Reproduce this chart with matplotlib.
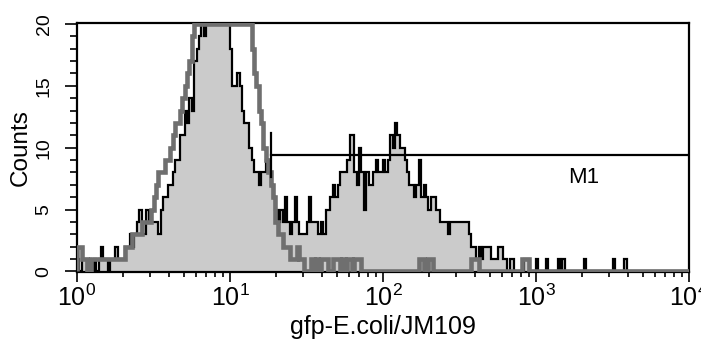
import numpy as np
import matplotlib
matplotlib.use("Agg")
import matplotlib.pyplot as plt
from matplotlib.ticker import FixedLocator, NullFormatter

plt.rcParams['font.family'] = ['Liberation Sans', 'DejaVu Sans']
plt.rcParams['mathtext.default'] = 'regular'

# 256 log-spaced channels spanning four decades
n_channels = 256
decades = 4

# gfp-E.coli/JM109 sample (filled histogram); channels above 20 are off scale
sample_counts = [
    1, 0, 1, 1, 0, 1, 0, 1, 0, 1, 2, 1, 1, 0, 1, 1,
    2, 1, 1, 1, 2, 2, 3, 2, 3, 4, 5, 3, 3, 5, 4, 4,
    4, 4, 3, 5, 6, 6, 7, 7, 8, 9, 9, 11, 11, 13, 12, 14,
    13, 17, 18, 19, 20, 19, 20, 24, 26, 27, 28, 27, 26, 25, 24, 22,
    18, 15, 15, 16, 15, 13, 12, 12, 10, 9, 8, 8, 7, 8, 8, 9,
    8, 7, 6, 5, 4, 5, 4, 6, 4, 3, 4, 6, 4, 3, 3, 3,
    4, 6, 4, 4, 4, 3, 4, 3, 5, 5, 6, 7, 6, 7, 8, 8,
    8, 9, 11, 11, 8, 7, 10, 8, 5, 8, 7, 7, 8, 9, 8, 8,
    9, 8, 9, 11, 10, 12, 11, 10, 10, 9, 8, 7, 7, 6, 7, 9,
    6, 7, 6, 5, 6, 6, 5, 5, 4, 4, 4, 3, 4, 4, 4, 4,
    4, 4, 4, 4, 3, 2, 2, 1, 2, 1, 2, 2, 2, 1, 1, 1,
    2, 2, 1, 1, 0, 1, 1, 0, 0, 0, 0, 1, 1, 0, 0, 0,
    1, 0, 0, 0, 1, 0, 0, 0, 0, 1, 0, 1, 0, 0, 0, 0,
    0, 0, 0, 0, 1, 0, 0, 0, 0, 0, 0, 0, 0, 0, 0, 0,
    1, 0, 0, 0, 0, 1, 0, 0, 0, 0, 0, 0, 0, 0, 0, 0,
    0, 0, 0, 0, 0, 0, 0, 0, 0, 0, 0, 0, 0, 0, 0, 0,
]

# negative control overlay (thick grey line)
control_counts = [
    2, 2, 1, 1, 0, 0, 1, 1, 1, 1, 1, 1, 1, 1, 1, 1,
    1, 1, 1, 1, 2, 2, 2, 3, 3, 3, 3, 4, 4, 4, 4, 5,
    6, 7, 8, 8, 8, 9, 9, 10, 11, 12, 12, 13, 14, 15, 16, 17,
    19, 22, 25, 28, 30, 32, 33, 35, 36, 35, 34, 33, 31, 30, 28, 27,
    26, 25, 24, 24, 23, 22, 22, 21, 20, 18, 16, 15, 13, 12, 10, 9,
    8, 7, 6, 4, 3, 3, 2, 2, 2, 1, 1, 1, 2, 1, 1, 0,
    0, 0, 1, 0, 1, 0, 1, 1, 1, 0, 0, 1, 1, 1, 0, 1,
    0, 1, 1, 0, 1, 1, 1, 0, 0, 0, 0, 0, 0, 0, 0, 0,
    0, 0, 0, 0, 0, 0, 0, 0, 0, 0, 0, 0, 0, 0, 0, 1,
    1, 0, 0, 1, 1, 0, 0, 0, 0, 0, 0, 0, 0, 0, 0, 0,
    0, 0, 0, 0, 0, 1, 1, 1, 0, 0, 0, 0, 0, 0, 0, 0,
    0, 0, 0, 0, 0, 0, 0, 0, 0, 0, 1, 1, 1, 0, 0, 0,
    0, 0, 0, 0, 0, 0, 0, 0, 0, 0, 0, 0, 0, 0, 0, 0,
    0, 0, 0, 0, 0, 0, 0, 0, 0, 0, 0, 0, 0, 0, 0, 0,
    0, 0, 0, 0, 0, 0, 0, 0, 0, 0, 0, 0, 0, 0, 0, 0,
    0, 0, 0, 0, 0, 0, 0, 0, 0, 0, 0, 0, 0, 0, 0, 0,
]

# M1 marker region and level
m1_start = 18.5
m1_end = 1e4
m1_level = 9.4
m1_bar_half = 1.75
m1_label_x = 2050
m1_label_y = 7.6

y_max = 20
x_tick_values = [1, 10, 100, 1000, 10000]
x_tick_labels = ['$10^0$', '$10^1$', '$10^2$', '$10^3$', '$10^4$']
y_tick_values = [0, 5, 10, 15, 20]
y_tick_labels = ['0', '5', '10', '15', '20']

edges = 10 ** np.linspace(0, decades, n_channels + 1)
sample = np.clip(np.array(sample_counts, dtype=float), 0, y_max)
control = np.clip(np.array(control_counts, dtype=float), 0, y_max)

fig = plt.figure(figsize=(7.01, 3.40), dpi=100)
ax = fig.add_axes([77 / 701, 68 / 340, 612 / 701, 249 / 340])

ax.stairs(sample, edges, fill=True, color='#cbcbcb', linewidth=0, zorder=1)
ax.stairs(sample, edges, color='black', linewidth=1.6, zorder=2)
ax.stairs(control, edges, color='#6f6f6f', linewidth=3.3, zorder=3)

# M1 gate marker
ax.plot([m1_start, m1_end], [m1_level, m1_level], color='black', lw=1.6, zorder=4)
ax.plot([m1_start, m1_start], [m1_level - m1_bar_half, m1_level + m1_bar_half],
        color='black', lw=1.6, zorder=4)
ax.text(m1_label_x, m1_label_y, 'M1', fontsize=16, ha='center', va='center')

ax.set_xscale('log')
ax.set_xlim(1, 1e4)
ax.set_ylim(-0.05, 20.08)

ax.xaxis.set_major_locator(FixedLocator(x_tick_values))
ax.set_xticklabels(x_tick_labels, fontsize=18)
minor_x = [m * 10 ** d for d in range(decades) for m in range(2, 10)]
ax.xaxis.set_minor_locator(FixedLocator(minor_x))
ax.xaxis.set_minor_formatter(NullFormatter())

ax.set_yticks(y_tick_values)
ax.set_yticklabels(y_tick_labels, fontsize=14, rotation=90, va='center')
ax.yaxis.set_minor_locator(FixedLocator(list(range(0, 21))))

ax.tick_params(axis='x', which='major', length=7.2, width=1.2, pad=2)
ax.tick_params(axis='x', which='minor', length=3.6, width=1.2)
ax.tick_params(axis='y', which='major', length=8.6, width=1.2, pad=9)
ax.tick_params(axis='y', which='minor', length=5, width=1.2)

for s in ax.spines.values():
    s.set_linewidth(1.6)

ax.set_xlabel('gfp-E.coli/JM109', fontsize=18, labelpad=3)
ax.set_ylabel('Counts', fontsize=17.5, labelpad=3)

fig.savefig('out.png', dpi=100)
